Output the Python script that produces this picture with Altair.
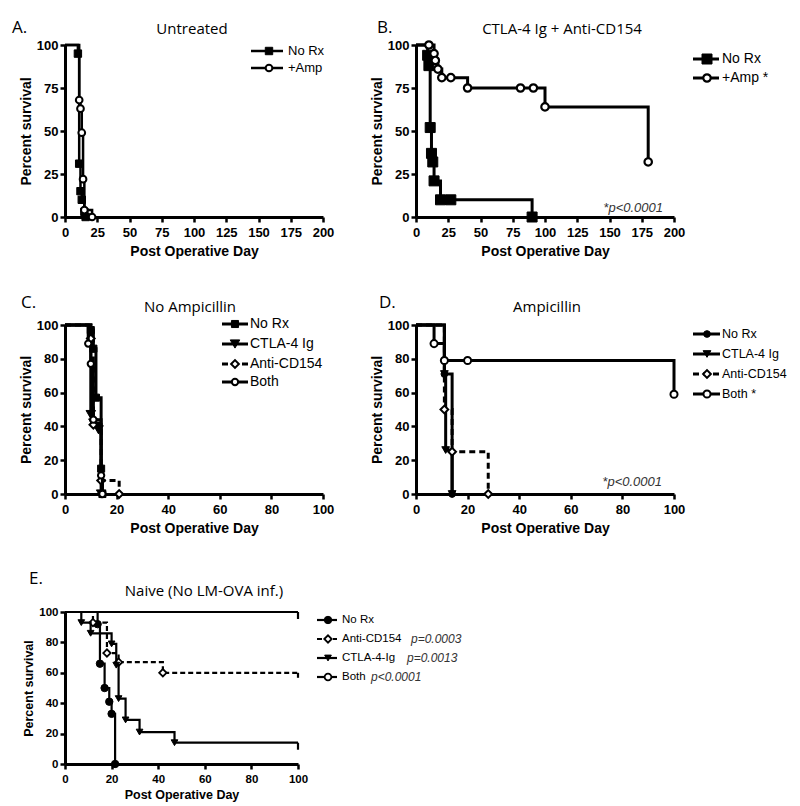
import altair as alt
import pandas as pd

# ---------------- data ----------------
# Panel A - Untreated
A_norx_day = [10, 11, 12, 13, 15, 16]
A_norx_pct = [95, 31, 15, 10, 3, 0]
A_amp_day = [11, 12, 13, 14, 15, 21]
A_amp_pct = [68, 63, 49, 22, 4, 0]

# Panel B - CTLA-4 Ig + Anti-CD154
B_norx_day = [9, 10, 11, 12, 13, 14, 19, 27, 90]
B_norx_pct = [94, 88, 52, 37, 32, 21, 10, 10, 0]
B_amp_day = [10, 14, 15, 17, 20, 27, 40, 81, 91, 100, 180]
B_amp_pct = [100, 95, 91, 86, 81, 81, 75, 75, 75, 64, 32]

# Panel C - No Ampicillin
C_norx_day = [10, 11, 12, 14, 14.5]
C_norx_pct = [97, 86, 57, 15, 0]
C_ctla_day = [10, 11, 13, 14]
C_ctla_pct = [47, 42, 38, 0]
C_anti_day = [10, 11, 14, 21]
C_anti_pct = [92, 41, 8, 0]
C_both_day = [9, 10, 11, 14, 14.5]
C_both_pct = [89, 77, 44, 11, 0]

# Panel D - Ampicillin
D_norx_day = [11, 14]
D_norx_pct = [71, 0]
D_ctla_day = [11, 11.5, 14]
D_ctla_pct = [71, 26, 0]
D_anti_day = [11, 14, 28]
D_anti_pct = [50, 25, 0]
D_both_day = [7, 11, 20, 100]
D_both_pct = [89, 79, 79, 59]

# Panel E - Naive
E_norx_day = [14, 15, 17, 19, 20, 21.5]
E_norx_pct = [92, 66, 50, 41, 33, 0]
E_anti_day = [12, 18, 23, 42]
E_anti_pct = [93, 73, 67, 60]
E_ctla_day = [7, 11, 20, 22, 23, 26, 32, 47]
E_ctla_pct = [93, 86, 79, 65, 43, 29, 21, 14]
E_both_day = []
E_both_pct = []
E_followup = 100

AB_labels = ["No Rx", "+Amp *"]
CD_labels_C = ["No Rx", "CTLA-4 Ig", "Anti-CD154", "Both"]
CD_labels_D = ["No Rx", "CTLA-4 Ig", "Anti-CD154", "Both *"]
E_labels = ["No Rx", "Anti-CD154", "CTLA-4-Ig", "Both"]
E_pvals = ["", "p=0.0003", "p=0.0013", "p<0.0001"]
titles = ["Untreated", "CTLA-4 Ig + Anti-CD154", "No Ampicillin", "Ampicillin", "Naive (No LM-OVA inf.)"]
letters = ["A.", "B.", "C.", "D.", "E."]
pnote = "*p<0.0001"

X200 = [0, 25, 50, 75, 100, 125, 150, 175, 200]
X100 = [0, 20, 40, 60, 80, 100]
Y25 = [0, 25, 50, 75, 100]
Y20 = [0, 20, 40, 60, 80, 100]

ONE = pd.DataFrame({"k": [0]})
BOLD = "Liberation Sans"
TFONT = "Open Sans"


def axis(vals, title, labsize, titlesize, tpad, lpad):
    return alt.Axis(values=vals, title=title, grid=False, labelFont=BOLD, labelFontWeight="bold",
                    labelFontSize=labsize, labelColor="black", titleFont=BOLD, titleFontWeight="bold",
                    titleFontSize=titlesize, titleColor="black", titlePadding=tpad, tickSize=5,
                    tickWidth=2.5, tickColor="black", domainWidth=3, domainColor="black",
                    labelPadding=lpad, labelOverlap=False, labelFlush=False)


def point_mark(st):
    kw = dict(shape=st["shape"], size=st["size"], filled=True, opacity=1, stroke="black",
              strokeWidth=st.get("sw", 2))
    kw["fill"] = "black" if st["filled"] else "white"
    return kw


def line_kw(st):
    kw = dict(color="black", strokeWidth=st["lw"])
    if st.get("dash"):
        kw["strokeDash"] = st["dash"]
    return kw


def series_layers(days, pct, st, X, Y, end=None):
    d = [0] + list(days)
    p = [100] + list(pct)
    if end is not None:
        d.append(end)
        p.append(p[-1])
    out = [alt.Chart(pd.DataFrame({"day": d, "pct": p})).mark_line(interpolate="step-after", **line_kw(st))
           .encode(x=X, y=Y)]
    if end is not None:
        out.append(alt.Chart(pd.DataFrame({"day": [end], "pct": [p[-1]]}))
                   .mark_rule(y2Offset=7, **line_kw(st)).encode(x=X, y=Y, y2="pct:Q"))
    if len(days):
        out.append(alt.Chart(pd.DataFrame({"day": list(days), "pct": list(pct)}))
                   .mark_point(**point_mark(st)).encode(x=X, y=Y))
    return out


def text_layer(txt, x, y, size, font=BOLD, weight="normal", style="normal", align="left",
               color="black", baseline="alphabetic"):
    return alt.Chart(ONE).mark_text(text=txt, font=font, fontSize=size, fontWeight=weight,
                                    fontStyle=style, align=align, color=color, baseline=baseline
                                    ).encode(x=alt.value(x), y=alt.value(y))


def legend_layers(labels, styles, xl0, xl1, xm, xt, ys, size, font=BOLD):
    out = []
    for lab, st, yy in zip(labels, styles, ys):
        out.append(alt.Chart(ONE).mark_rule(**line_kw(st)).encode(
            x=alt.value(xl0), x2=alt.value(xl1), y=alt.value(yy)))
        out.append(alt.Chart(ONE).mark_point(**point_mark(st)).encode(x=alt.value(xm), y=alt.value(yy)))
        out.append(text_layer(lab, xt, yy, size, font=font, baseline="middle"))
    return out


def panel(xmax, xvals, yvals, series, labsize=13, titlesize=14, ytp=3, xtp=5, yrange=None):
    xs = alt.Scale(domain=[0, xmax], nice=False, zero=True)
    if yrange:
        ys = alt.Scale(domain=[0, 100], nice=False, range=yrange)
    else:
        ys = alt.Scale(domain=[0, 100], nice=False)
    X = alt.X("day:Q", scale=xs, axis=axis(xvals, "Post Operative Day", labsize, titlesize, xtp, 4))
    Y = alt.Y("pct:Q", scale=ys, axis=axis(yvals, "Percent survival", labsize, titlesize, ytp, 2))
    layers = []
    for s in series:
        end = s[3] if len(s) > 3 else None
        layers += series_layers(s[0], s[1], s[2], X, Y, end=end)
    return layers


# ---------------- styles ----------------
A_sq = dict(shape="square", size=55, filled=True, lw=2.5, sw=1)
A_ci = dict(shape="circle", size=45, filled=False, lw=2.5, sw=2)
B_sq = dict(shape="square", size=100, filled=True, lw=3, sw=1)
B_ci = dict(shape="circle", size=55, filled=False, lw=3, sw=2.2)
C_sq = dict(shape="square", size=50, filled=True, lw=3, sw=1)
C_tr = dict(shape="triangle-down", size=90, filled=True, lw=3, sw=1)
C_di = dict(shape="diamond", size=60, filled=False, lw=3, sw=2, dash=[6, 4])
C_ci = dict(shape="circle", size=40, filled=False, lw=3, sw=2)
D_fc = dict(shape="circle", size=45, filled=True, lw=3, sw=1)
D_tr = dict(shape="triangle-down", size=60, filled=True, lw=3, sw=1)
D_di = dict(shape="diamond", size=60, filled=False, lw=3, sw=2, dash=[6, 4])
D_ci = dict(shape="circle", size=50, filled=False, lw=3, sw=2)
E_fc = dict(shape="circle", size=55, filled=True, lw=2.2, sw=1)
E_di = dict(shape="diamond", size=55, filled=False, lw=2.2, sw=1.8, dash=[5, 3])
E_tr = dict(shape="triangle-down", size=45, filled=True, lw=2.2, sw=1)
E_ci = dict(shape="circle", size=45, filled=False, lw=2.2, sw=1.8)

W, HA, HC = 258, 172, 169
WE, HE = 233, 162

# Panel A
la = panel(200, X200, Y25, [(A_norx_day, A_norx_pct, A_sq), (A_amp_day, A_amp_pct, A_ci)])
la += legend_layers(AB_labels[:1] + ["+Amp"], [A_sq, A_ci], 186, 218, 204, 223, [6, 23], 13)
la += [text_layer(letters[0], -53, -12, 17, font=TFONT),
       text_layer(titles[0], 127, -11, 15, font=TFONT, align="center")]
pA = alt.layer(*la).properties(width=W, height=HA)

# Panel B
lb = panel(200, X200, Y25, [(B_norx_day, B_norx_pct, B_sq), (B_amp_day, B_amp_pct, B_ci)])
lb += legend_layers(AB_labels, [B_sq, B_ci], 277, 303, 291, 306, [14, 33], 14)
lb += [text_layer(letters[1], -39, -12, 17, font=TFONT),
       text_layer(titles[1], 146, -11, 15, font=TFONT, align="center"),
       text_layer(pnote, 247, 167, 13, style="italic", align="right", color="#333")]
pB = alt.layer(*lb).properties(width=W, height=HA)

# Panel C
lc = panel(100, X100, Y20, [(C_norx_day, C_norx_pct, C_sq), (C_ctla_day, C_ctla_pct, C_tr),
                            (C_anti_day, C_anti_pct, C_di), (C_both_day, C_both_pct, C_ci)])
lc += legend_layers(CD_labels_C, [C_sq, C_tr, C_di, C_ci], 157, 183, 170, 185, [-1, 19, 39, 57], 14)
lc += [text_layer(letters[2], -44, -17, 17, font=TFONT),
       text_layer(titles[2], 125, -13, 15, font=TFONT, align="center")]
pC = alt.layer(*lc).properties(width=W, height=HC)

# Panel D
ld = panel(100, X100, Y20, [(D_norx_day, D_norx_pct, D_fc), (D_ctla_day, D_ctla_pct, D_tr),
                            (D_anti_day, D_anti_pct, D_di), (D_both_day, D_both_pct, D_ci)])
ld += legend_layers(CD_labels_D, [D_fc, D_tr, D_di, D_ci], 277, 304, 291, 306, [9, 29, 49, 69], 12.5)
ld += [text_layer(letters[3], -37, -17, 17, font=TFONT),
       text_layer(titles[3], 131, -13, 15, font=TFONT, align="center"),
       text_layer(pnote, 246, 161, 13, style="italic", align="right", color="#333")]
pD = alt.layer(*ld).properties(width=W, height=HC)

# Panel E
le = panel(100, X100, Y20, [(E_norx_day, E_norx_pct, E_fc),
                            (E_anti_day, E_anti_pct, E_di, E_followup),
                            (E_ctla_day, E_ctla_pct, E_tr, E_followup),
                            (E_both_day, E_both_pct, E_ci, E_followup)],
           labsize=11.5, titlesize=12.5, ytp=3, xtp=4, yrange=[HE, 10])
le += legend_layers(E_labels, [E_fc, E_di, E_tr, E_ci], 252, 272, 263, 277, [18, 37, 56, 75], 11.5)
for pv, xx, yy in zip(E_pvals[1:], [346, 342, 306], [37, 56, 75]):
    le.append(text_layer(pv, xx, yy, 12, style="italic", color="#333", baseline="middle"))
le += [text_layer(letters[4], -36, -18, 17, font=TFONT),
       text_layer(titles[4], 139, -6, 15, font=TFONT, align="center")]
pE = alt.layer(*le).properties(width=WE, height=HE)

chart = alt.concat(pA, pB, pC, pD, pE, columns=2, spacing={"row": 108, "column": 93},
                   bounds="flush").properties(
    padding={"left": 4, "top": 11, "right": 5, "bottom": 5}
).configure_view(stroke=None)

chart.save("out.html", embed_options={"renderer": "svg", "actions": False})
